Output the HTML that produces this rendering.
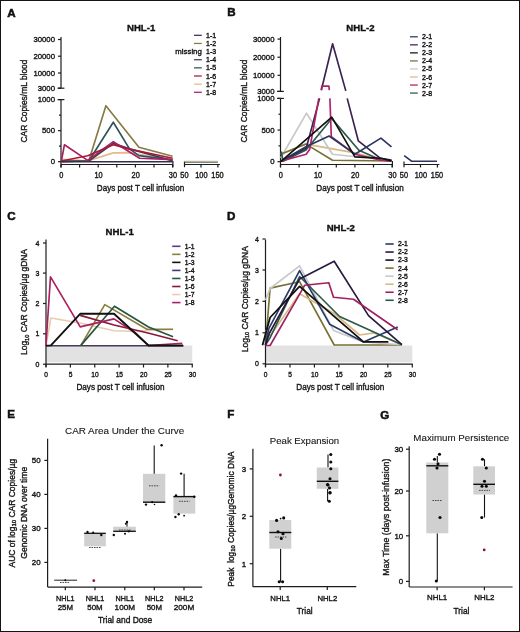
<!DOCTYPE html>
<html><head><meta charset="utf-8"><style>
html,body{margin:0;padding:0;background:#fff;overflow:hidden;width:520px;height:632px;}
svg{display:block;font-family:"Liberation Sans", sans-serif;will-change:transform;}
text{-webkit-font-smoothing:antialiased;}
body{-webkit-font-smoothing:antialiased;}
</style></head><body>
<svg width="520" height="632" viewBox="0 0 520 632">
<rect x="0" y="0" width="520" height="632" fill="#fff"/>
<text x="7.3" y="16.65" font-size="11.6" text-anchor="start" font-weight="bold" fill="#111" stroke="#111" stroke-width="0.55" >A</text>
<text x="227.3" y="16.45" font-size="11.6" text-anchor="start" font-weight="bold" fill="#111" stroke="#111" stroke-width="0.55" >B</text>
<text x="7.3" y="220.25" font-size="11.6" text-anchor="start" font-weight="bold" fill="#111" stroke="#111" stroke-width="0.55" >C</text>
<text x="227" y="220.25" font-size="11.6" text-anchor="start" font-weight="bold" fill="#111" stroke="#111" stroke-width="0.55" >D</text>
<text x="7.3" y="418.45" font-size="11.6" text-anchor="start" font-weight="bold" fill="#111" stroke="#111" stroke-width="0.55" >E</text>
<text x="227.3" y="418.45" font-size="11.6" text-anchor="start" font-weight="bold" fill="#111" stroke="#111" stroke-width="0.55" >F</text>
<text x="380.3" y="418.55" font-size="11.6" text-anchor="start" font-weight="bold" fill="#111" stroke="#111" stroke-width="0.55" >G</text>
<line x1="61" y1="37" x2="61" y2="88.2" stroke="#1c1c1c" stroke-width="1.2"/>
<line x1="57.6" y1="88.2" x2="64.4" y2="88.2" stroke="#1c1c1c" stroke-width="1.2"/>
<line x1="58" y1="39.5" x2="61" y2="39.5" stroke="#1c1c1c" stroke-width="1.2"/>
<text transform="translate(55.0,42.2) scale(0.97,1)" x="0" y="0" font-size="8.0" text-anchor="end" font-weight="normal" fill="#181818" stroke="#181818" stroke-width="0.38" >30000</text>
<line x1="58" y1="56.2" x2="61" y2="56.2" stroke="#1c1c1c" stroke-width="1.2"/>
<text transform="translate(55.0,58.900000000000006) scale(0.97,1)" x="0" y="0" font-size="8.0" text-anchor="end" font-weight="normal" fill="#181818" stroke="#181818" stroke-width="0.38" >20000</text>
<line x1="58" y1="73" x2="61" y2="73" stroke="#1c1c1c" stroke-width="1.2"/>
<text transform="translate(55.0,75.7) scale(0.97,1)" x="0" y="0" font-size="8.0" text-anchor="end" font-weight="normal" fill="#181818" stroke="#181818" stroke-width="0.38" >10000</text>
<line x1="58" y1="88.2" x2="61" y2="88.2" stroke="#1c1c1c" stroke-width="1.2"/>
<text transform="translate(55.0,90.9) scale(0.97,1)" x="0" y="0" font-size="8.0" text-anchor="end" font-weight="normal" fill="#181818" stroke="#181818" stroke-width="0.38" >3000</text>
<line x1="61" y1="99.6" x2="61" y2="167.4" stroke="#1c1c1c" stroke-width="1.2"/>
<line x1="57.6" y1="99.6" x2="64.4" y2="99.6" stroke="#1c1c1c" stroke-width="1.2"/>
<line x1="58" y1="99.6" x2="61" y2="99.6" stroke="#1c1c1c" stroke-width="1.2"/>
<text transform="translate(55.0,102.3) scale(0.97,1)" x="0" y="0" font-size="8.0" text-anchor="end" font-weight="normal" fill="#181818" stroke="#181818" stroke-width="0.38" >1000</text>
<line x1="58" y1="130.64999999999998" x2="61" y2="130.64999999999998" stroke="#1c1c1c" stroke-width="1.2"/>
<text transform="translate(55.0,133.34999999999997) scale(0.97,1)" x="0" y="0" font-size="8.0" text-anchor="end" font-weight="normal" fill="#181818" stroke="#181818" stroke-width="0.38" >500</text>
<line x1="58" y1="161.7" x2="61" y2="161.7" stroke="#1c1c1c" stroke-width="1.2"/>
<text transform="translate(55.0,164.39999999999998) scale(0.97,1)" x="0" y="0" font-size="8.0" text-anchor="end" font-weight="normal" fill="#181818" stroke="#181818" stroke-width="0.38" >0</text>
<line x1="59" y1="146.17499999999998" x2="61" y2="146.17499999999998" stroke="#1c1c1c" stroke-width="1.2"/>
<line x1="59" y1="115.125" x2="61" y2="115.125" stroke="#1c1c1c" stroke-width="1.2"/>
<line x1="61" y1="164.5" x2="172.9" y2="164.5" stroke="#1c1c1c" stroke-width="1.2"/>
<line x1="172.9" y1="161" x2="172.9" y2="167.3" stroke="#1c1c1c" stroke-width="1.2"/>
<line x1="61.0" y1="164.5" x2="61.0" y2="167.4" stroke="#1c1c1c" stroke-width="1.2"/>
<line x1="79.6" y1="164.5" x2="79.6" y2="167.4" stroke="#1c1c1c" stroke-width="1.2"/>
<line x1="98.2" y1="164.5" x2="98.2" y2="167.4" stroke="#1c1c1c" stroke-width="1.2"/>
<line x1="116.80000000000001" y1="164.5" x2="116.80000000000001" y2="167.4" stroke="#1c1c1c" stroke-width="1.2"/>
<line x1="135.4" y1="164.5" x2="135.4" y2="167.4" stroke="#1c1c1c" stroke-width="1.2"/>
<line x1="154.0" y1="164.5" x2="154.0" y2="167.4" stroke="#1c1c1c" stroke-width="1.2"/>
<line x1="172.60000000000002" y1="164.5" x2="172.60000000000002" y2="167.4" stroke="#1c1c1c" stroke-width="1.2"/>
<text transform="translate(61.3,178.2) scale(0.9,1)" x="0" y="0" font-size="8.2" text-anchor="middle" font-weight="normal" fill="#181818" stroke="#181818" stroke-width="0.38" >0</text>
<text transform="translate(98.5,178.2) scale(0.9,1)" x="0" y="0" font-size="8.2" text-anchor="middle" font-weight="normal" fill="#181818" stroke="#181818" stroke-width="0.38" >10</text>
<text transform="translate(135.70000000000002,178.2) scale(0.9,1)" x="0" y="0" font-size="8.2" text-anchor="middle" font-weight="normal" fill="#181818" stroke="#181818" stroke-width="0.38" >20</text>
<text transform="translate(172.90000000000003,178.2) scale(0.9,1)" x="0" y="0" font-size="8.2" text-anchor="middle" font-weight="normal" fill="#181818" stroke="#181818" stroke-width="0.38" >30</text>
<line x1="184.5" y1="164.5" x2="219.9" y2="164.5" stroke="#1c1c1c" stroke-width="1.2"/>
<line x1="184.5" y1="161.4" x2="184.5" y2="167.2" stroke="#1c1c1c" stroke-width="1.2"/>
<line x1="201" y1="164.5" x2="201" y2="167.4" stroke="#1c1c1c" stroke-width="1.2"/>
<line x1="217.9" y1="164.5" x2="217.9" y2="167.4" stroke="#1c1c1c" stroke-width="1.2"/>
<text transform="translate(184.4,178.2) scale(0.9,1)" x="0" y="0" font-size="8.2" text-anchor="middle" font-weight="normal" fill="#181818" stroke="#181818" stroke-width="0.38" >50</text>
<text transform="translate(201.4,178.2) scale(0.9,1)" x="0" y="0" font-size="8.2" text-anchor="middle" font-weight="normal" fill="#181818" stroke="#181818" stroke-width="0.38" >100</text>
<text transform="translate(217.5,178.2) scale(0.9,1)" x="0" y="0" font-size="8.2" text-anchor="middle" font-weight="normal" fill="#181818" stroke="#181818" stroke-width="0.38" >150</text>
<text transform="translate(140.5,191) scale(0.87,1)" x="0" y="0" font-size="9.3" text-anchor="middle" font-weight="normal" fill="#181818" stroke="#181818" stroke-width="0.38" >Days post T cell infusion</text>
<text x="0" y="0" font-size="9.3" text-anchor="middle" fill="#181818" stroke="#181818" stroke-width="0.38" transform="translate(27.3,101) rotate(-90) scale(0.906,1)" >CAR Copies/mL blood</text>
<text x="127" y="31.0" font-size="9.6" text-anchor="start" font-weight="bold" fill="#111" stroke="#111" stroke-width="0.35" >NHL-1</text>
<line x1="194" y1="35.3" x2="201.8" y2="35.3" stroke="#36324a" stroke-width="1.25"/>
<text x="206" y="37.8" font-size="7" text-anchor="start" font-weight="normal" fill="#181818" stroke="#181818" stroke-width="0.38" >1-1</text>
<line x1="194" y1="43.44" x2="201.8" y2="43.44" stroke="#877a42" stroke-width="1.25"/>
<text x="206" y="45.94" font-size="7" text-anchor="start" font-weight="normal" fill="#181818" stroke="#181818" stroke-width="0.38" >1-2</text>
<text x="206" y="54.08" font-size="7" text-anchor="start" font-weight="normal" fill="#181818" stroke="#181818" stroke-width="0.38" >1-3</text>
<line x1="194" y1="59.72" x2="201.8" y2="59.72" stroke="#3a3e58" stroke-width="1.25"/>
<text x="206" y="62.22" font-size="7" text-anchor="start" font-weight="normal" fill="#181818" stroke="#181818" stroke-width="0.38" >1-4</text>
<line x1="194" y1="67.86" x2="201.8" y2="67.86" stroke="#2f5358" stroke-width="1.25"/>
<text x="206" y="70.36" font-size="7" text-anchor="start" font-weight="normal" fill="#181818" stroke="#181818" stroke-width="0.38" >1-5</text>
<line x1="194" y1="76.0" x2="201.8" y2="76.0" stroke="#a8183c" stroke-width="1.25"/>
<text x="206" y="78.5" font-size="7" text-anchor="start" font-weight="normal" fill="#181818" stroke="#181818" stroke-width="0.38" >1-6</text>
<line x1="194" y1="84.14" x2="201.8" y2="84.14" stroke="#e6b890" stroke-width="1.25"/>
<text x="206" y="86.64" font-size="7" text-anchor="start" font-weight="normal" fill="#181818" stroke="#181818" stroke-width="0.38" >1-7</text>
<line x1="194" y1="92.28" x2="201.8" y2="92.28" stroke="#a82064" stroke-width="1.25"/>
<text x="206" y="94.78" font-size="7" text-anchor="start" font-weight="normal" fill="#181818" stroke="#181818" stroke-width="0.38" >1-8</text>
<text x="201.8" y="54.08" font-size="7.8" text-anchor="end" font-weight="normal" fill="#181818" stroke="#181818" stroke-width="0.38" >missing</text>
<line x1="280.5" y1="37" x2="280.5" y2="91.4" stroke="#1c1c1c" stroke-width="1.2"/>
<line x1="277.1" y1="91.4" x2="283.9" y2="91.4" stroke="#1c1c1c" stroke-width="1.2"/>
<line x1="277.5" y1="39.1" x2="280.5" y2="39.1" stroke="#1c1c1c" stroke-width="1.2"/>
<text transform="translate(274.5,41.800000000000004) scale(0.97,1)" x="0" y="0" font-size="8.0" text-anchor="end" font-weight="normal" fill="#181818" stroke="#181818" stroke-width="0.38" >30000</text>
<line x1="277.5" y1="57.2" x2="280.5" y2="57.2" stroke="#1c1c1c" stroke-width="1.2"/>
<text transform="translate(274.5,59.900000000000006) scale(0.97,1)" x="0" y="0" font-size="8.0" text-anchor="end" font-weight="normal" fill="#181818" stroke="#181818" stroke-width="0.38" >20000</text>
<line x1="277.5" y1="75.3" x2="280.5" y2="75.3" stroke="#1c1c1c" stroke-width="1.2"/>
<text transform="translate(274.5,78.0) scale(0.97,1)" x="0" y="0" font-size="8.0" text-anchor="end" font-weight="normal" fill="#181818" stroke="#181818" stroke-width="0.38" >10000</text>
<line x1="277.5" y1="91.4" x2="280.5" y2="91.4" stroke="#1c1c1c" stroke-width="1.2"/>
<text transform="translate(274.5,94.10000000000001) scale(0.97,1)" x="0" y="0" font-size="8.0" text-anchor="end" font-weight="normal" fill="#181818" stroke="#181818" stroke-width="0.38" >3000</text>
<line x1="280.5" y1="98.4" x2="280.5" y2="167.4" stroke="#1c1c1c" stroke-width="1.2"/>
<line x1="277.1" y1="98.4" x2="283.9" y2="98.4" stroke="#1c1c1c" stroke-width="1.2"/>
<line x1="277.5" y1="98.4" x2="280.5" y2="98.4" stroke="#1c1c1c" stroke-width="1.2"/>
<text transform="translate(274.5,101.10000000000001) scale(0.97,1)" x="0" y="0" font-size="8.0" text-anchor="end" font-weight="normal" fill="#181818" stroke="#181818" stroke-width="0.38" >1000</text>
<line x1="277.5" y1="130.05" x2="280.5" y2="130.05" stroke="#1c1c1c" stroke-width="1.2"/>
<text transform="translate(274.5,132.75) scale(0.97,1)" x="0" y="0" font-size="8.0" text-anchor="end" font-weight="normal" fill="#181818" stroke="#181818" stroke-width="0.38" >500</text>
<line x1="277.5" y1="161.7" x2="280.5" y2="161.7" stroke="#1c1c1c" stroke-width="1.2"/>
<text transform="translate(274.5,164.39999999999998) scale(0.97,1)" x="0" y="0" font-size="8.0" text-anchor="end" font-weight="normal" fill="#181818" stroke="#181818" stroke-width="0.38" >0</text>
<line x1="278.5" y1="145.875" x2="280.5" y2="145.875" stroke="#1c1c1c" stroke-width="1.2"/>
<line x1="278.5" y1="114.225" x2="280.5" y2="114.225" stroke="#1c1c1c" stroke-width="1.2"/>
<line x1="280.5" y1="164.5" x2="392.4" y2="164.5" stroke="#1c1c1c" stroke-width="1.2"/>
<line x1="392.4" y1="161" x2="392.4" y2="167.3" stroke="#1c1c1c" stroke-width="1.2"/>
<line x1="280.5" y1="164.5" x2="280.5" y2="167.4" stroke="#1c1c1c" stroke-width="1.2"/>
<line x1="299.1" y1="164.5" x2="299.1" y2="167.4" stroke="#1c1c1c" stroke-width="1.2"/>
<line x1="317.7" y1="164.5" x2="317.7" y2="167.4" stroke="#1c1c1c" stroke-width="1.2"/>
<line x1="336.3" y1="164.5" x2="336.3" y2="167.4" stroke="#1c1c1c" stroke-width="1.2"/>
<line x1="354.9" y1="164.5" x2="354.9" y2="167.4" stroke="#1c1c1c" stroke-width="1.2"/>
<line x1="373.5" y1="164.5" x2="373.5" y2="167.4" stroke="#1c1c1c" stroke-width="1.2"/>
<line x1="392.1" y1="164.5" x2="392.1" y2="167.4" stroke="#1c1c1c" stroke-width="1.2"/>
<text transform="translate(280.8,178.2) scale(0.9,1)" x="0" y="0" font-size="8.2" text-anchor="middle" font-weight="normal" fill="#181818" stroke="#181818" stroke-width="0.38" >0</text>
<text transform="translate(318.0,178.2) scale(0.9,1)" x="0" y="0" font-size="8.2" text-anchor="middle" font-weight="normal" fill="#181818" stroke="#181818" stroke-width="0.38" >10</text>
<text transform="translate(355.2,178.2) scale(0.9,1)" x="0" y="0" font-size="8.2" text-anchor="middle" font-weight="normal" fill="#181818" stroke="#181818" stroke-width="0.38" >20</text>
<text transform="translate(392.40000000000003,178.2) scale(0.9,1)" x="0" y="0" font-size="8.2" text-anchor="middle" font-weight="normal" fill="#181818" stroke="#181818" stroke-width="0.38" >30</text>
<line x1="404.0" y1="164.5" x2="439.4" y2="164.5" stroke="#1c1c1c" stroke-width="1.2"/>
<line x1="404.0" y1="161.4" x2="404.0" y2="167.2" stroke="#1c1c1c" stroke-width="1.2"/>
<line x1="420.5" y1="164.5" x2="420.5" y2="167.4" stroke="#1c1c1c" stroke-width="1.2"/>
<line x1="437.4" y1="164.5" x2="437.4" y2="167.4" stroke="#1c1c1c" stroke-width="1.2"/>
<text transform="translate(403.9,178.2) scale(0.9,1)" x="0" y="0" font-size="8.2" text-anchor="middle" font-weight="normal" fill="#181818" stroke="#181818" stroke-width="0.38" >50</text>
<text transform="translate(420.9,178.2) scale(0.9,1)" x="0" y="0" font-size="8.2" text-anchor="middle" font-weight="normal" fill="#181818" stroke="#181818" stroke-width="0.38" >100</text>
<text transform="translate(437.0,178.2) scale(0.9,1)" x="0" y="0" font-size="8.2" text-anchor="middle" font-weight="normal" fill="#181818" stroke="#181818" stroke-width="0.38" >150</text>
<text transform="translate(360.0,191) scale(0.87,1)" x="0" y="0" font-size="9.3" text-anchor="middle" font-weight="normal" fill="#181818" stroke="#181818" stroke-width="0.38" >Days post T cell infusion</text>
<text x="0" y="0" font-size="9.3" text-anchor="middle" fill="#181818" stroke="#181818" stroke-width="0.38" transform="translate(246.8,101) rotate(-90) scale(0.906,1)" >CAR Copies/mL blood</text>
<text x="346.3" y="31.0" font-size="9.6" text-anchor="start" font-weight="bold" fill="#111" stroke="#111" stroke-width="0.35" >NHL-2</text>
<line x1="410" y1="36.8" x2="417.8" y2="36.8" stroke="#2a3560" stroke-width="1.25"/>
<text x="422" y="39.3" font-size="7" text-anchor="start" font-weight="normal" fill="#181818" stroke="#181818" stroke-width="0.38" >2-1</text>
<line x1="410" y1="44.839999999999996" x2="417.8" y2="44.839999999999996" stroke="#3a2250" stroke-width="1.25"/>
<text x="422" y="47.339999999999996" font-size="7" text-anchor="start" font-weight="normal" fill="#181818" stroke="#181818" stroke-width="0.38" >2-2</text>
<line x1="410" y1="52.879999999999995" x2="417.8" y2="52.879999999999995" stroke="#111111" stroke-width="1.25"/>
<text x="422" y="55.379999999999995" font-size="7" text-anchor="start" font-weight="normal" fill="#181818" stroke="#181818" stroke-width="0.38" >2-3</text>
<line x1="410" y1="60.919999999999995" x2="417.8" y2="60.919999999999995" stroke="#7a7035" stroke-width="1.25"/>
<text x="422" y="63.419999999999995" font-size="7" text-anchor="start" font-weight="normal" fill="#181818" stroke="#181818" stroke-width="0.38" >2-4</text>
<line x1="410" y1="68.96" x2="417.8" y2="68.96" stroke="#c8c8c8" stroke-width="1.25"/>
<text x="422" y="71.46" font-size="7" text-anchor="start" font-weight="normal" fill="#181818" stroke="#181818" stroke-width="0.38" >2-5</text>
<line x1="410" y1="77.0" x2="417.8" y2="77.0" stroke="#d8b888" stroke-width="1.25"/>
<text x="422" y="79.5" font-size="7" text-anchor="start" font-weight="normal" fill="#181818" stroke="#181818" stroke-width="0.38" >2-6</text>
<line x1="410" y1="85.03999999999999" x2="417.8" y2="85.03999999999999" stroke="#b0206a" stroke-width="1.25"/>
<text x="422" y="87.53999999999999" font-size="7" text-anchor="start" font-weight="normal" fill="#181818" stroke="#181818" stroke-width="0.38" >2-7</text>
<line x1="410" y1="93.07999999999998" x2="417.8" y2="93.07999999999998" stroke="#2a5a48" stroke-width="1.25"/>
<text x="422" y="95.57999999999998" font-size="7" text-anchor="start" font-weight="normal" fill="#181818" stroke="#181818" stroke-width="0.38" >2-8</text>
<g transform="translate(0,0.4)">
<polyline points="61.4,158.8 87.7,160.5 113.3,152.5 127.5,152.2 172.6,159.2" fill="none" stroke="#e6b890" stroke-width="1.65" stroke-linejoin="round" />
<polyline points="61.4,161.0 88.8,160.6 105.9,105.3 138.9,146.8 172.6,155.9" fill="none" stroke="#877a42" stroke-width="1.65" stroke-linejoin="round" />
<polyline points="61.4,161.0 88.8,160.6 113.3,121.8 129.5,148.5 138.9,155.2 172.6,159.6" fill="none" stroke="#2f5358" stroke-width="1.65" stroke-linejoin="round" />
<polyline points="61.4,161.0 88.8,160.6 113.3,143.0 129.5,148.5 172.6,160.3" fill="none" stroke="#3a3e58" stroke-width="1.65" stroke-linejoin="round" />
<polyline points="61.4,160.6 64.4,144.4 87.7,160.0 113.3,141.3 128.8,151.1 139.6,157.9 172.6,159.2" fill="none" stroke="#a82064" stroke-width="1.65" stroke-linejoin="round" />
<polyline points="61.4,160.6 87.7,155.4 113.3,144.4 129.5,148.7 172.6,157.9" fill="none" stroke="#a8183c" stroke-width="1.65" stroke-linejoin="round" />
<polyline points="61.4,161.3 172.6,161.3" fill="none" stroke="#36324a" stroke-width="1.65" stroke-linejoin="round" />
<polyline points="184.5,160.8 217.9,160.8" fill="none" stroke="#e6b890" stroke-width="1.1" stroke-linejoin="round" />
<polyline points="184.5,161.8 217.9,161.8" fill="none" stroke="#3a6a68" stroke-width="1.1" stroke-linejoin="round" />
</g>
<polyline points="280.7,154.2 306.0,144.1 355.0,152.9 381.0,160.0 391.5,160.5" fill="none" stroke="#d8b888" stroke-width="1.65" stroke-linejoin="round" />
<polyline points="280.7,158.0 306.5,113.2 332.5,154.2 358.0,157.0 391.5,160.0" fill="none" stroke="#c8c8c8" stroke-width="1.65" stroke-linejoin="round" />
<polyline points="280.7,154.2 306.0,144.1 332.5,160.3 391.5,161.0" fill="none" stroke="#7a7035" stroke-width="1.65" stroke-linejoin="round" />
<polyline points="281.3,151.5 283.0,161.3 306.0,150.0 331.8,118.6 358.9,150.2 381.0,160.0 391.5,161.0" fill="none" stroke="#2a5a48" stroke-width="1.65" stroke-linejoin="round" />
<polyline points="280.7,161.3 306.2,148.2 319.6,98.4" fill="none" stroke="#3a2250" stroke-width="1.65" stroke-linejoin="round" />
<polyline points="321.3,90.2 332.6,43.8 345.8,90.9" fill="none" stroke="#3a2250" stroke-width="1.65" stroke-linejoin="round" />
<polyline points="347.2,98.4 358.3,140.8 380.5,158.3 391.5,160.0" fill="none" stroke="#3a2250" stroke-width="1.65" stroke-linejoin="round" />
<polyline points="280.7,161.3 306.2,154.2 309.6,149.5 318.8,98.4" fill="none" stroke="#b0206a" stroke-width="1.65" stroke-linejoin="round" />
<polyline points="321.3,90.2 321.8,86.1 328.9,86.1 329.3,90.2" fill="none" stroke="#b0206a" stroke-width="1.65" stroke-linejoin="round" />
<polyline points="329.9,98.4 331.3,136.7 354.9,154.2 381.0,160.3 391.5,161.0" fill="none" stroke="#b0206a" stroke-width="1.65" stroke-linejoin="round" />
<polyline points="280.7,161.3 306.0,146.8 329.1,136.0 354.9,154.2 380.9,138.1 391.5,146.8" fill="none" stroke="#2a3560" stroke-width="1.65" stroke-linejoin="round" />
<polyline points="404.2,155.7 411.5,161.2 437.0,161.2" fill="none" stroke="#2a3560" stroke-width="1.65" stroke-linejoin="round" />
<polyline points="280.7,161.6 331.8,117.2 354.9,156.9 381.1,158.3 391.5,161.0" fill="none" stroke="#111111" stroke-width="1.65" stroke-linejoin="round" />
<rect x="46.5" y="345.5" width="145.75" height="16.8" fill="#e2e2e2"/>
<line x1="46" y1="239.5" x2="46" y2="367" stroke="#1c1c1c" stroke-width="1.2"/>
<line x1="43" y1="364.2" x2="46" y2="364.2" stroke="#1c1c1c" stroke-width="1.2"/>
<text transform="translate(39.5,366.7) scale(0.92,1)" x="0" y="0" font-size="7.6" text-anchor="end" font-weight="normal" fill="#181818" stroke="#181818" stroke-width="0.38" >0</text>
<line x1="43" y1="333.8" x2="46" y2="333.8" stroke="#1c1c1c" stroke-width="1.2"/>
<text transform="translate(39.5,336.3) scale(0.92,1)" x="0" y="0" font-size="7.6" text-anchor="end" font-weight="normal" fill="#181818" stroke="#181818" stroke-width="0.38" >1</text>
<line x1="43" y1="303.5" x2="46" y2="303.5" stroke="#1c1c1c" stroke-width="1.2"/>
<text transform="translate(39.5,306.0) scale(0.92,1)" x="0" y="0" font-size="7.6" text-anchor="end" font-weight="normal" fill="#181818" stroke="#181818" stroke-width="0.38" >2</text>
<line x1="43" y1="273.1" x2="46" y2="273.1" stroke="#1c1c1c" stroke-width="1.2"/>
<text transform="translate(39.5,275.6) scale(0.92,1)" x="0" y="0" font-size="7.6" text-anchor="end" font-weight="normal" fill="#181818" stroke="#181818" stroke-width="0.38" >3</text>
<line x1="43" y1="243" x2="46" y2="243" stroke="#1c1c1c" stroke-width="1.2"/>
<text transform="translate(39.5,245.5) scale(0.92,1)" x="0" y="0" font-size="7.6" text-anchor="end" font-weight="normal" fill="#181818" stroke="#181818" stroke-width="0.38" >4</text>
<line x1="46" y1="364.1" x2="192.75" y2="364.1" stroke="#1c1c1c" stroke-width="1.2"/>
<line x1="46.0" y1="364.1" x2="46.0" y2="367.5" stroke="#1c1c1c" stroke-width="1.2"/>
<text transform="translate(46.2,377.3) scale(0.87,1)" x="0" y="0" font-size="7.6" text-anchor="middle" font-weight="normal" fill="#181818" stroke="#181818" stroke-width="0.38" >0</text>
<line x1="70.375" y1="364.1" x2="70.375" y2="367.5" stroke="#1c1c1c" stroke-width="1.2"/>
<text transform="translate(70.575,377.3) scale(0.87,1)" x="0" y="0" font-size="7.6" text-anchor="middle" font-weight="normal" fill="#181818" stroke="#181818" stroke-width="0.38" >5</text>
<line x1="94.75" y1="364.1" x2="94.75" y2="367.5" stroke="#1c1c1c" stroke-width="1.2"/>
<text transform="translate(94.95,377.3) scale(0.87,1)" x="0" y="0" font-size="7.6" text-anchor="middle" font-weight="normal" fill="#181818" stroke="#181818" stroke-width="0.38" >10</text>
<line x1="119.125" y1="364.1" x2="119.125" y2="367.5" stroke="#1c1c1c" stroke-width="1.2"/>
<text transform="translate(119.325,377.3) scale(0.87,1)" x="0" y="0" font-size="7.6" text-anchor="middle" font-weight="normal" fill="#181818" stroke="#181818" stroke-width="0.38" >15</text>
<line x1="143.5" y1="364.1" x2="143.5" y2="367.5" stroke="#1c1c1c" stroke-width="1.2"/>
<text transform="translate(143.7,377.3) scale(0.87,1)" x="0" y="0" font-size="7.6" text-anchor="middle" font-weight="normal" fill="#181818" stroke="#181818" stroke-width="0.38" >20</text>
<line x1="167.875" y1="364.1" x2="167.875" y2="367.5" stroke="#1c1c1c" stroke-width="1.2"/>
<text transform="translate(168.075,377.3) scale(0.87,1)" x="0" y="0" font-size="7.6" text-anchor="middle" font-weight="normal" fill="#181818" stroke="#181818" stroke-width="0.38" >25</text>
<line x1="192.25" y1="364.1" x2="192.25" y2="367.5" stroke="#1c1c1c" stroke-width="1.2"/>
<text transform="translate(192.45,377.3) scale(0.87,1)" x="0" y="0" font-size="7.6" text-anchor="middle" font-weight="normal" fill="#181818" stroke="#181818" stroke-width="0.38" >30</text>
<text transform="translate(120.5,390.4) scale(0.888,1)" x="0" y="0" font-size="9.2" text-anchor="middle" font-weight="normal" fill="#181818" stroke="#181818" stroke-width="0.38" >Days post T cell infusion</text>
<text x="105.6" y="234.8" font-size="9.6" text-anchor="start" font-weight="bold" fill="#111" stroke="#111" stroke-width="0.35" >NHL-1</text>
<line x1="172.2" y1="246.3" x2="180.5" y2="246.3" stroke="#5a3a80" stroke-width="1.6"/>
<text x="184.79999999999998" y="248.70000000000002" font-size="6.8" text-anchor="start" font-weight="normal" fill="#181818" stroke="#181818" stroke-width="0.38" >1-1</text>
<line x1="172.2" y1="254.34" x2="180.5" y2="254.34" stroke="#8a7e40" stroke-width="1.6"/>
<text x="184.79999999999998" y="256.74" font-size="6.8" text-anchor="start" font-weight="normal" fill="#181818" stroke="#181818" stroke-width="0.38" >1-2</text>
<line x1="172.2" y1="262.38" x2="180.5" y2="262.38" stroke="#111111" stroke-width="1.6"/>
<text x="184.79999999999998" y="264.78" font-size="6.8" text-anchor="start" font-weight="normal" fill="#181818" stroke="#181818" stroke-width="0.38" >1-3</text>
<line x1="172.2" y1="270.42" x2="180.5" y2="270.42" stroke="#3a3a80" stroke-width="1.6"/>
<text x="184.79999999999998" y="272.82" font-size="6.8" text-anchor="start" font-weight="normal" fill="#181818" stroke="#181818" stroke-width="0.38" >1-4</text>
<line x1="172.2" y1="278.46000000000004" x2="180.5" y2="278.46000000000004" stroke="#2a5540" stroke-width="1.6"/>
<text x="184.79999999999998" y="280.86" font-size="6.8" text-anchor="start" font-weight="normal" fill="#181818" stroke="#181818" stroke-width="0.38" >1-5</text>
<line x1="172.2" y1="286.5" x2="180.5" y2="286.5" stroke="#8a1838" stroke-width="1.6"/>
<text x="184.79999999999998" y="288.9" font-size="6.8" text-anchor="start" font-weight="normal" fill="#181818" stroke="#181818" stroke-width="0.38" >1-6</text>
<line x1="172.2" y1="294.54" x2="180.5" y2="294.54" stroke="#e8ccb0" stroke-width="1.6"/>
<text x="184.79999999999998" y="296.94" font-size="6.8" text-anchor="start" font-weight="normal" fill="#181818" stroke="#181818" stroke-width="0.38" >1-7</text>
<line x1="172.2" y1="302.58" x2="180.5" y2="302.58" stroke="#a82060" stroke-width="1.6"/>
<text x="184.79999999999998" y="304.97999999999996" font-size="6.8" text-anchor="start" font-weight="normal" fill="#181818" stroke="#181818" stroke-width="0.38" >1-8</text>
<text x="0" y="0" font-size="9.3" text-anchor="middle" fill="#181818" stroke="#181818" stroke-width="0.38" transform="translate(27.4,302) rotate(-90) scale(0.91,1)" >Log<tspan font-size="6.2" dy="1.3">10</tspan><tspan dy="-1.3"> CAR Copies/µg gDNA</tspan></text>
<rect x="266.0" y="345.5" width="146.29" height="16.8" fill="#e2e2e2"/>
<line x1="265.5" y1="239.5" x2="265.5" y2="367" stroke="#1c1c1c" stroke-width="1.2"/>
<line x1="262.5" y1="363.8" x2="265.5" y2="363.8" stroke="#1c1c1c" stroke-width="1.2"/>
<text transform="translate(259.0,366.3) scale(0.92,1)" x="0" y="0" font-size="7.6" text-anchor="end" font-weight="normal" fill="#181818" stroke="#181818" stroke-width="0.38" >0</text>
<line x1="262.5" y1="332.8" x2="265.5" y2="332.8" stroke="#1c1c1c" stroke-width="1.2"/>
<text transform="translate(259.0,335.3) scale(0.92,1)" x="0" y="0" font-size="7.6" text-anchor="end" font-weight="normal" fill="#181818" stroke="#181818" stroke-width="0.38" >1</text>
<line x1="262.5" y1="301.3" x2="265.5" y2="301.3" stroke="#1c1c1c" stroke-width="1.2"/>
<text transform="translate(259.0,303.8) scale(0.92,1)" x="0" y="0" font-size="7.6" text-anchor="end" font-weight="normal" fill="#181818" stroke="#181818" stroke-width="0.38" >2</text>
<line x1="262.5" y1="270" x2="265.5" y2="270" stroke="#1c1c1c" stroke-width="1.2"/>
<text transform="translate(259.0,272.5) scale(0.92,1)" x="0" y="0" font-size="7.6" text-anchor="end" font-weight="normal" fill="#181818" stroke="#181818" stroke-width="0.38" >3</text>
<line x1="262.5" y1="239" x2="265.5" y2="239" stroke="#1c1c1c" stroke-width="1.2"/>
<text transform="translate(259.0,241.5) scale(0.92,1)" x="0" y="0" font-size="7.6" text-anchor="end" font-weight="normal" fill="#181818" stroke="#181818" stroke-width="0.38" >4</text>
<line x1="265.5" y1="364.1" x2="412.78999999999996" y2="364.1" stroke="#1c1c1c" stroke-width="1.2"/>
<line x1="265.5" y1="364.1" x2="265.5" y2="367.5" stroke="#1c1c1c" stroke-width="1.2"/>
<text transform="translate(265.7,377.3) scale(0.87,1)" x="0" y="0" font-size="7.6" text-anchor="middle" font-weight="normal" fill="#181818" stroke="#181818" stroke-width="0.38" >0</text>
<line x1="289.965" y1="364.1" x2="289.965" y2="367.5" stroke="#1c1c1c" stroke-width="1.2"/>
<text transform="translate(290.16499999999996,377.3) scale(0.87,1)" x="0" y="0" font-size="7.6" text-anchor="middle" font-weight="normal" fill="#181818" stroke="#181818" stroke-width="0.38" >5</text>
<line x1="314.43" y1="364.1" x2="314.43" y2="367.5" stroke="#1c1c1c" stroke-width="1.2"/>
<text transform="translate(314.63,377.3) scale(0.87,1)" x="0" y="0" font-size="7.6" text-anchor="middle" font-weight="normal" fill="#181818" stroke="#181818" stroke-width="0.38" >10</text>
<line x1="338.895" y1="364.1" x2="338.895" y2="367.5" stroke="#1c1c1c" stroke-width="1.2"/>
<text transform="translate(339.09499999999997,377.3) scale(0.87,1)" x="0" y="0" font-size="7.6" text-anchor="middle" font-weight="normal" fill="#181818" stroke="#181818" stroke-width="0.38" >15</text>
<line x1="363.36" y1="364.1" x2="363.36" y2="367.5" stroke="#1c1c1c" stroke-width="1.2"/>
<text transform="translate(363.56,377.3) scale(0.87,1)" x="0" y="0" font-size="7.6" text-anchor="middle" font-weight="normal" fill="#181818" stroke="#181818" stroke-width="0.38" >20</text>
<line x1="387.825" y1="364.1" x2="387.825" y2="367.5" stroke="#1c1c1c" stroke-width="1.2"/>
<text transform="translate(388.025,377.3) scale(0.87,1)" x="0" y="0" font-size="7.6" text-anchor="middle" font-weight="normal" fill="#181818" stroke="#181818" stroke-width="0.38" >25</text>
<line x1="412.28999999999996" y1="364.1" x2="412.28999999999996" y2="367.5" stroke="#1c1c1c" stroke-width="1.2"/>
<text transform="translate(412.48999999999995,377.3) scale(0.87,1)" x="0" y="0" font-size="7.6" text-anchor="middle" font-weight="normal" fill="#181818" stroke="#181818" stroke-width="0.38" >30</text>
<text transform="translate(340.3,390.4) scale(0.888,1)" x="0" y="0" font-size="9.2" text-anchor="middle" font-weight="normal" fill="#181818" stroke="#181818" stroke-width="0.38" >Days post T cell infusion</text>
<text x="326.7" y="230.6" font-size="9.6" text-anchor="start" font-weight="bold" fill="#111" stroke="#111" stroke-width="0.35" >NHL-2</text>
<line x1="385.4" y1="244.0" x2="393.7" y2="244.0" stroke="#283a68" stroke-width="1.6"/>
<text x="398.0" y="246.4" font-size="6.8" text-anchor="start" font-weight="normal" fill="#181818" stroke="#181818" stroke-width="0.38" >2-1</text>
<line x1="385.4" y1="252.04" x2="393.7" y2="252.04" stroke="#2a1840" stroke-width="1.6"/>
<text x="398.0" y="254.44" font-size="6.8" text-anchor="start" font-weight="normal" fill="#181818" stroke="#181818" stroke-width="0.38" >2-2</text>
<line x1="385.4" y1="260.08" x2="393.7" y2="260.08" stroke="#111111" stroke-width="1.6"/>
<text x="398.0" y="262.47999999999996" font-size="6.8" text-anchor="start" font-weight="normal" fill="#181818" stroke="#181818" stroke-width="0.38" >2-3</text>
<line x1="385.4" y1="268.12" x2="393.7" y2="268.12" stroke="#7a7035" stroke-width="1.6"/>
<text x="398.0" y="270.52" font-size="6.8" text-anchor="start" font-weight="normal" fill="#181818" stroke="#181818" stroke-width="0.38" >2-4</text>
<line x1="385.4" y1="276.15999999999997" x2="393.7" y2="276.15999999999997" stroke="#c8c8c8" stroke-width="1.6"/>
<text x="398.0" y="278.55999999999995" font-size="6.8" text-anchor="start" font-weight="normal" fill="#181818" stroke="#181818" stroke-width="0.38" >2-5</text>
<line x1="385.4" y1="284.2" x2="393.7" y2="284.2" stroke="#d8b888" stroke-width="1.6"/>
<text x="398.0" y="286.59999999999997" font-size="6.8" text-anchor="start" font-weight="normal" fill="#181818" stroke="#181818" stroke-width="0.38" >2-6</text>
<line x1="385.4" y1="292.24" x2="393.7" y2="292.24" stroke="#a02060" stroke-width="1.6"/>
<text x="398.0" y="294.64" font-size="6.8" text-anchor="start" font-weight="normal" fill="#181818" stroke="#181818" stroke-width="0.38" >2-7</text>
<line x1="385.4" y1="300.28" x2="393.7" y2="300.28" stroke="#2a5a48" stroke-width="1.6"/>
<text x="398.0" y="302.67999999999995" font-size="6.8" text-anchor="start" font-weight="normal" fill="#181818" stroke="#181818" stroke-width="0.38" >2-8</text>
<text x="0" y="0" font-size="9.3" text-anchor="middle" fill="#181818" stroke="#181818" stroke-width="0.38" transform="translate(247.7,299.2) rotate(-90) scale(0.91,1)" >Log<tspan font-size="6.2" dy="1.3">10</tspan><tspan dy="-1.3"> CAR Copies/µg gDNA</tspan></text>
<polyline points="45.9,345.7 183.5,345.7" fill="none" stroke="#463a58" stroke-width="1.65" stroke-linejoin="round" />
<polyline points="45.9,346.0 50.9,318.0 80.0,323.0 114.0,330.8 130.8,331.2 173.0,329.5" fill="none" stroke="#e8ccb0" stroke-width="1.65" stroke-linejoin="round" />
<polyline points="80.9,345.4 104.8,304.6 146.9,329.2 173.1,329.2" fill="none" stroke="#8a7e40" stroke-width="1.65" stroke-linejoin="round" />
<polyline points="80.9,345.4 114.5,306.2 148.5,327.0 173.1,336.8" fill="none" stroke="#2a5540" stroke-width="1.65" stroke-linejoin="round" />
<polyline points="80.2,315.4 114.0,325.0 148.0,333.0 177.7,340.8" fill="none" stroke="#8a1838" stroke-width="1.65" stroke-linejoin="round" />
<polyline points="45.9,346.0 50.5,276.9 80.2,326.9 114.0,318.9 136.2,333.5 148.5,345.5 182.3,343.2" fill="none" stroke="#a82060" stroke-width="1.65" stroke-linejoin="round" />
<polyline points="45.9,345.6 50.9,345.4 80.2,313.8 114.0,313.8 148.5,345.5 183.1,345.5" fill="none" stroke="#111111" stroke-width="1.9" stroke-linejoin="round" />
<polyline points="265.5,345.2 270.1,288.1 299.6,281.7 334.2,345.0 401.9,345.0" fill="none" stroke="#7a7035" stroke-width="1.65" stroke-linejoin="round" />
<polyline points="265.5,330.0 270.1,336.0 299.6,293.8 334.2,313.5 359.6,335.0 374.2,332.9 401.9,344.7" fill="none" stroke="#d8b888" stroke-width="1.65" stroke-linejoin="round" />
<polyline points="265.5,300.0 270.1,288.5 299.6,265.8 333.5,330.4 363.5,342.0 401.9,344.7" fill="none" stroke="#c8c8c8" stroke-width="1.65" stroke-linejoin="round" />
<polyline points="265.5,345.0 270.1,337.7 299.6,276.5 339.6,316.5 401.9,344.7" fill="none" stroke="#2a5a48" stroke-width="1.65" stroke-linejoin="round" />
<polyline points="265.5,345.0 268.9,328.4 299.6,270.6 329.6,324.2 363.5,341.9 397.7,326.9" fill="none" stroke="#283a68" stroke-width="1.65" stroke-linejoin="round" />
<polyline points="265.5,345.0 269.5,333.0 299.6,279.0 334.2,261.2 368.5,315.6 401.9,344.7" fill="none" stroke="#2a1840" stroke-width="1.65" stroke-linejoin="round" />
<polyline points="265.5,345.5 270.1,345.5 301.8,290.4 304.7,285.2 328.8,282.7 333.5,297.3 353.5,299.2 397.7,329.8" fill="none" stroke="#a02060" stroke-width="1.65" stroke-linejoin="round" />
<polyline points="262.5,345.2 270.1,317.5 299.6,286.4 363.5,341.9 388.4,341.9" fill="none" stroke="#111111" stroke-width="1.8" stroke-linejoin="round" />
<line x1="47.6" y1="438.7" x2="47.6" y2="586.9" stroke="#1c1c1c" stroke-width="1.2"/>
<line x1="47.6" y1="587.1" x2="202.2" y2="587.1" stroke="#1c1c1c" stroke-width="1.2"/>
<line x1="44.4" y1="562.4" x2="47.6" y2="562.4" stroke="#1c1c1c" stroke-width="1.2"/>
<text x="40.6" y="565.1999999999999" font-size="7.9" text-anchor="end" font-weight="normal" fill="#181818" stroke="#181818" stroke-width="0.38" >20</text>
<line x1="44.4" y1="528.4" x2="47.6" y2="528.4" stroke="#1c1c1c" stroke-width="1.2"/>
<text x="40.6" y="531.1999999999999" font-size="7.9" text-anchor="end" font-weight="normal" fill="#181818" stroke="#181818" stroke-width="0.38" >30</text>
<line x1="44.4" y1="494.4" x2="47.6" y2="494.4" stroke="#1c1c1c" stroke-width="1.2"/>
<text x="40.6" y="497.2" font-size="7.9" text-anchor="end" font-weight="normal" fill="#181818" stroke="#181818" stroke-width="0.38" >40</text>
<line x1="44.4" y1="460.4" x2="47.6" y2="460.4" stroke="#1c1c1c" stroke-width="1.2"/>
<text x="40.6" y="463.2" font-size="7.9" text-anchor="end" font-weight="normal" fill="#181818" stroke="#181818" stroke-width="0.38" >50</text>
<text x="124.6" y="433.5" font-size="9.9" text-anchor="middle" font-weight="normal" fill="#181818" stroke="#181818" stroke-width="0.12" >CAR Area Under the Curve</text>
<line x1="65.3" y1="586.9" x2="65.3" y2="590.3" stroke="#1c1c1c" stroke-width="1.2"/>
<text x="65.3" y="600.6" font-size="7.9" text-anchor="middle" font-weight="normal" fill="#181818" stroke="#181818" stroke-width="0.38" textLength="18.4" lengthAdjust="spacingAndGlyphs">NHL1</text>
<text x="65.3" y="610.1" font-size="7.9" text-anchor="middle" font-weight="normal" fill="#181818" stroke="#181818" stroke-width="0.38" textLength="15.299999999999999" lengthAdjust="spacingAndGlyphs">25M</text>
<line x1="95" y1="586.9" x2="95" y2="590.3" stroke="#1c1c1c" stroke-width="1.2"/>
<text x="95" y="600.6" font-size="7.9" text-anchor="middle" font-weight="normal" fill="#181818" stroke="#181818" stroke-width="0.38" textLength="18.4" lengthAdjust="spacingAndGlyphs">NHL1</text>
<text x="95" y="610.1" font-size="7.9" text-anchor="middle" font-weight="normal" fill="#181818" stroke="#181818" stroke-width="0.38" textLength="15.299999999999999" lengthAdjust="spacingAndGlyphs">50M</text>
<line x1="124.8" y1="586.9" x2="124.8" y2="590.3" stroke="#1c1c1c" stroke-width="1.2"/>
<text x="124.8" y="600.6" font-size="7.9" text-anchor="middle" font-weight="normal" fill="#181818" stroke="#181818" stroke-width="0.38" textLength="18.4" lengthAdjust="spacingAndGlyphs">NHL1</text>
<text x="124.8" y="610.1" font-size="7.9" text-anchor="middle" font-weight="normal" fill="#181818" stroke="#181818" stroke-width="0.38" textLength="20.4" lengthAdjust="spacingAndGlyphs">100M</text>
<line x1="154.3" y1="586.9" x2="154.3" y2="590.3" stroke="#1c1c1c" stroke-width="1.2"/>
<text x="154.3" y="600.6" font-size="7.9" text-anchor="middle" font-weight="normal" fill="#181818" stroke="#181818" stroke-width="0.38" textLength="18.4" lengthAdjust="spacingAndGlyphs">NHL2</text>
<text x="154.3" y="610.1" font-size="7.9" text-anchor="middle" font-weight="normal" fill="#181818" stroke="#181818" stroke-width="0.38" textLength="15.299999999999999" lengthAdjust="spacingAndGlyphs">50M</text>
<line x1="184" y1="586.9" x2="184" y2="590.3" stroke="#1c1c1c" stroke-width="1.2"/>
<text x="184" y="600.6" font-size="7.9" text-anchor="middle" font-weight="normal" fill="#181818" stroke="#181818" stroke-width="0.38" textLength="18.4" lengthAdjust="spacingAndGlyphs">NHL2</text>
<text x="184" y="610.1" font-size="7.9" text-anchor="middle" font-weight="normal" fill="#181818" stroke="#181818" stroke-width="0.38" textLength="20.4" lengthAdjust="spacingAndGlyphs">200M</text>
<text transform="translate(125.1,623.4) scale(0.945,1)" x="0" y="0" font-size="8.9" text-anchor="middle" font-weight="normal" fill="#181818" stroke="#181818" stroke-width="0.38" >Trial and Dose</text>
<text x="0" y="0" font-size="8.9" text-anchor="middle" fill="#181818" stroke="#181818" stroke-width="0.38" transform="translate(15.0,513.2) rotate(-90) scale(0.955,1)" >AUC of log<tspan font-size="6.2" dy="1.4">10</tspan><tspan dy="-1.4"> CAR Copies/µg</tspan></text>
<text x="0" y="0" font-size="9.0" text-anchor="middle" fill="#181818" stroke="#181818" stroke-width="0.38" transform="translate(26.8,512.8) rotate(-90) scale(0.953,1)" >Genomic DNA over time</text>
<line x1="54.2" y1="580.2" x2="77" y2="580.2" stroke="#222" stroke-width="1.0"/>
<line x1="60" y1="582.5" x2="70" y2="582.5" stroke="#3a3a3a" stroke-width="0.9" stroke-dasharray="1.6,0.9"/>
<circle cx="65.3" cy="580.2" r="1" fill="#0a0a0a"/>
<rect x="84.2" y="533" width="21.6" height="13.3" fill="#d0d0d0"/>
<line x1="84.2" y1="533.3" x2="105.8" y2="533.3" stroke="#111" stroke-width="1.3"/>
<line x1="89" y1="547.5" x2="101" y2="547.5" stroke="#3a3a3a" stroke-width="0.9" stroke-dasharray="1.6,0.9"/>
<circle cx="93.8" cy="580.7" r="1.4" fill="#8a1532"/>
<circle cx="87.5" cy="532" r="1.2" fill="#0a0a0a"/>
<circle cx="93.2" cy="532.5" r="1.1" fill="#0a0a0a"/>
<circle cx="101.3" cy="535" r="1.2" fill="#0a0a0a"/>
<rect x="113.2" y="526.7" width="22.6" height="5.4" fill="#d0d0d0"/>
<line x1="113.2" y1="531.3" x2="135.8" y2="531.3" stroke="#111" stroke-width="1.3"/>
<line x1="119" y1="530" x2="131" y2="530" stroke="#3a3a3a" stroke-width="0.9" stroke-dasharray="1.6,0.9"/>
<line x1="127" y1="522" x2="127" y2="526.7" stroke="#111" stroke-width="1"/>
<circle cx="113.8" cy="535" r="1.2" fill="#0a0a0a"/>
<circle cx="127" cy="522" r="1.2" fill="#0a0a0a"/>
<circle cx="125.8" cy="523.8" r="1" fill="#0a0a0a"/>
<circle cx="128.8" cy="531.3" r="1.1" fill="#0a0a0a"/>
<circle cx="125" cy="533.8" r="1" fill="#0a0a0a"/>
<rect x="143" y="473.8" width="22.3" height="28.4" fill="#d0d0d0"/>
<line x1="154.2" y1="445.6" x2="154.2" y2="473.8" stroke="#111" stroke-width="1.1"/>
<line x1="143" y1="502.2" x2="165.3" y2="502.2" stroke="#111" stroke-width="1.4"/>
<line x1="149" y1="485.8" x2="159.2" y2="485.8" stroke="#3a3a3a" stroke-width="0.9" stroke-dasharray="1.6,0.9"/>
<circle cx="161.6" cy="445.3" r="1.2" fill="#0a0a0a"/>
<circle cx="146" cy="504.6" r="1.2" fill="#0a0a0a"/>
<circle cx="152.2" cy="502.2" r="1.1" fill="#0a0a0a"/>
<circle cx="154.5" cy="504.5" r="0.8" fill="#0a0a0a"/>
<rect x="173.4" y="496.4" width="21.9" height="17.2" fill="#d0d0d0"/>
<line x1="184.1" y1="473.8" x2="184.1" y2="496.4" stroke="#111" stroke-width="1.1"/>
<line x1="173.4" y1="496.6" x2="195.3" y2="496.6" stroke="#111" stroke-width="1.4"/>
<line x1="179" y1="501.3" x2="189.5" y2="501.3" stroke="#3a3a3a" stroke-width="0.9" stroke-dasharray="1.6,0.9"/>
<circle cx="181.1" cy="473.6" r="1.2" fill="#0a0a0a"/>
<circle cx="176" cy="495.5" r="1.2" fill="#0a0a0a"/>
<circle cx="194.2" cy="496.8" r="1.2" fill="#0a0a0a"/>
<circle cx="175.4" cy="517" r="1.2" fill="#0a0a0a"/>
<circle cx="178.7" cy="514.3" r="1.2" fill="#0a0a0a"/>
<circle cx="184.1" cy="515.7" r="0.9" fill="#0a0a0a"/>
<line x1="252.9" y1="448.8" x2="252.9" y2="586.7" stroke="#1c1c1c" stroke-width="1.2"/>
<line x1="252.9" y1="586.7" x2="356.3" y2="586.7" stroke="#1c1c1c" stroke-width="1.2"/>
<line x1="249.70000000000002" y1="563.7" x2="252.9" y2="563.7" stroke="#1c1c1c" stroke-width="1.2"/>
<text x="246.20000000000002" y="566.5" font-size="7.9" text-anchor="end" font-weight="normal" fill="#181818" stroke="#181818" stroke-width="0.38" >1</text>
<line x1="249.70000000000002" y1="516.3000000000001" x2="252.9" y2="516.3000000000001" stroke="#1c1c1c" stroke-width="1.2"/>
<text x="246.20000000000002" y="519.1" font-size="7.9" text-anchor="end" font-weight="normal" fill="#181818" stroke="#181818" stroke-width="0.38" >2</text>
<line x1="249.70000000000002" y1="468.90000000000003" x2="252.9" y2="468.90000000000003" stroke="#1c1c1c" stroke-width="1.2"/>
<text x="246.20000000000002" y="471.70000000000005" font-size="7.9" text-anchor="end" font-weight="normal" fill="#181818" stroke="#181818" stroke-width="0.38" >3</text>
<text x="304.5" y="443.8" font-size="9.6" text-anchor="middle" font-weight="normal" fill="#181818" stroke="#181818" stroke-width="0.12" >Peak Expansion</text>
<line x1="280.2" y1="586.7" x2="280.2" y2="590" stroke="#1c1c1c" stroke-width="1.2"/>
<text x="280.2" y="600.5" font-size="8.0" text-anchor="middle" font-weight="normal" fill="#181818" stroke="#181818" stroke-width="0.38" textLength="19.8" lengthAdjust="spacingAndGlyphs">NHL1</text>
<line x1="327.3" y1="586.7" x2="327.3" y2="590" stroke="#1c1c1c" stroke-width="1.2"/>
<text x="327.3" y="600.5" font-size="8.0" text-anchor="middle" font-weight="normal" fill="#181818" stroke="#181818" stroke-width="0.38" textLength="19.8" lengthAdjust="spacingAndGlyphs">NHL2</text>
<text transform="translate(304.7,613.7) scale(0.93,1)" x="0" y="0" font-size="8.9" text-anchor="middle" font-weight="normal" fill="#181818" stroke="#181818" stroke-width="0.38" >Trial</text>
<text x="0" y="0" font-size="8.9" text-anchor="middle" fill="#181818" stroke="#181818" stroke-width="0.38" transform="translate(233.8,519) rotate(-90) scale(0.945,1)" >Peak&#160; log<tspan font-size="6.2" dy="1.4">10</tspan><tspan dy="-1.4"> Copies/µgGenomic DNA</tspan></text>
<line x1="280.6" y1="548.7" x2="280.6" y2="581.8" stroke="#111" stroke-width="1.1"/>
<rect x="269.3" y="520" width="22" height="28.7" fill="#d0d0d0"/>
<line x1="269.3" y1="532.5" x2="291.3" y2="532.5" stroke="#111" stroke-width="1.4"/>
<line x1="275" y1="537" x2="286.3" y2="537" stroke="#3a3a3a" stroke-width="0.9" stroke-dasharray="1.6,0.9"/>
<circle cx="280.4" cy="475" r="1.4" fill="#8a1532"/>
<circle cx="276.6" cy="520.4" r="1.55" fill="#0a0a0a"/>
<circle cx="283.7" cy="517.9" r="1.55" fill="#0a0a0a"/>
<circle cx="278" cy="531.8" r="1.55" fill="#0a0a0a"/>
<circle cx="283" cy="533.8" r="1.55" fill="#0a0a0a"/>
<circle cx="281.3" cy="538.5" r="1.55" fill="#0a0a0a"/>
<circle cx="279.2" cy="581.8" r="1.55" fill="#0a0a0a"/>
<circle cx="282.6" cy="581.8" r="1.55" fill="#0a0a0a"/>
<circle cx="280.6" cy="518.6" r="0.9" fill="#0a0a0a"/>
<line x1="328" y1="454.5" x2="328" y2="467.5" stroke="#111" stroke-width="1.1"/>
<line x1="327.6" y1="488.8" x2="327.6" y2="501.3" stroke="#111" stroke-width="1.1"/>
<rect x="316.8" y="467.5" width="21.6" height="21.3" fill="#d0d0d0"/>
<line x1="316.8" y1="481.3" x2="338.4" y2="481.3" stroke="#111" stroke-width="1.4"/>
<circle cx="330.8" cy="454.5" r="1.55" fill="#0a0a0a"/>
<circle cx="330.8" cy="462" r="1.55" fill="#0a0a0a"/>
<circle cx="330.8" cy="468.8" r="1.55" fill="#0a0a0a"/>
<circle cx="330" cy="478.8" r="1.55" fill="#0a0a0a"/>
<circle cx="328" cy="485" r="1.55" fill="#0a0a0a"/>
<circle cx="330" cy="493" r="1.55" fill="#0a0a0a"/>
<circle cx="327.5" cy="484.5" r="1.55" fill="#0a0a0a"/>
<circle cx="329.5" cy="488" r="1.55" fill="#0a0a0a"/>
<circle cx="330" cy="492.5" r="1.55" fill="#0a0a0a"/>
<circle cx="329.3" cy="501.3" r="1.55" fill="#0a0a0a"/>
<line x1="409.2" y1="446.2" x2="409.2" y2="587" stroke="#1c1c1c" stroke-width="1.2"/>
<line x1="409.2" y1="587" x2="512.6" y2="587" stroke="#1c1c1c" stroke-width="1.2"/>
<line x1="406.0" y1="581.4" x2="409.2" y2="581.4" stroke="#1c1c1c" stroke-width="1.2"/>
<text x="403.2" y="584.1999999999999" font-size="7.9" text-anchor="end" font-weight="normal" fill="#181818" stroke="#181818" stroke-width="0.38" >0</text>
<line x1="406.0" y1="535.8" x2="409.2" y2="535.8" stroke="#1c1c1c" stroke-width="1.2"/>
<text x="403.2" y="538.5999999999999" font-size="7.9" text-anchor="end" font-weight="normal" fill="#181818" stroke="#181818" stroke-width="0.38" >10</text>
<line x1="406.0" y1="491" x2="409.2" y2="491" stroke="#1c1c1c" stroke-width="1.2"/>
<text x="403.2" y="493.8" font-size="7.9" text-anchor="end" font-weight="normal" fill="#181818" stroke="#181818" stroke-width="0.38" >20</text>
<line x1="406.0" y1="449.2" x2="409.2" y2="449.2" stroke="#1c1c1c" stroke-width="1.2"/>
<text x="403.2" y="452.0" font-size="7.9" text-anchor="end" font-weight="normal" fill="#181818" stroke="#181818" stroke-width="0.38" >30</text>
<text x="461.3" y="440.5" font-size="9.75" text-anchor="middle" font-weight="normal" fill="#181818" stroke="#181818" stroke-width="0.12" >Maximum Persistence</text>
<line x1="437.1" y1="587" x2="437.1" y2="590.3" stroke="#1c1c1c" stroke-width="1.2"/>
<text x="437.1" y="600.0" font-size="8.0" text-anchor="middle" font-weight="normal" fill="#181818" stroke="#181818" stroke-width="0.38" textLength="20.2" lengthAdjust="spacingAndGlyphs">NHL1</text>
<line x1="484.4" y1="587" x2="484.4" y2="590.3" stroke="#1c1c1c" stroke-width="1.2"/>
<text x="484.4" y="600.0" font-size="8.0" text-anchor="middle" font-weight="normal" fill="#181818" stroke="#181818" stroke-width="0.38" textLength="20.2" lengthAdjust="spacingAndGlyphs">NHL2</text>
<text transform="translate(461.5,613.8) scale(0.93,1)" x="0" y="0" font-size="8.9" text-anchor="middle" font-weight="normal" fill="#181818" stroke="#181818" stroke-width="0.38" >Trial</text>
<text x="0" y="0" font-size="9.2" text-anchor="middle" fill="#181818" stroke="#181818" stroke-width="0.38" transform="translate(389,517.2) rotate(-90) scale(0.955,1)" >Max Time (days post-infusion)</text>
<line x1="437.3" y1="456" x2="437.3" y2="462.5" stroke="#111" stroke-width="1.1"/>
<line x1="437.3" y1="533.3" x2="437.3" y2="581" stroke="#111" stroke-width="1.1"/>
<rect x="426.3" y="462.5" width="22" height="70.8" fill="#d0d0d0"/>
<line x1="426.3" y1="465.8" x2="448.3" y2="465.8" stroke="#111" stroke-width="1.4"/>
<line x1="432.5" y1="500.5" x2="442.5" y2="500.5" stroke="#3a3a3a" stroke-width="0.9" stroke-dasharray="1.6,0.9"/>
<circle cx="439.5" cy="454.3" r="1.55" fill="#0a0a0a"/>
<circle cx="434.5" cy="459.3" r="1.55" fill="#0a0a0a"/>
<circle cx="438" cy="463.8" r="1.55" fill="#0a0a0a"/>
<circle cx="437" cy="468" r="1.55" fill="#0a0a0a"/>
<circle cx="440" cy="517.5" r="1.55" fill="#0a0a0a"/>
<circle cx="436.3" cy="581" r="1.55" fill="#0a0a0a"/>
<line x1="484.5" y1="459.3" x2="484.5" y2="466.3" stroke="#111" stroke-width="1.1"/>
<line x1="484.5" y1="494.5" x2="484.5" y2="517.5" stroke="#111" stroke-width="1.1"/>
<rect x="473.3" y="466.3" width="21.7" height="28.2" fill="#d0d0d0"/>
<line x1="473.3" y1="484.3" x2="495" y2="484.3" stroke="#111" stroke-width="1.4"/>
<line x1="479" y1="490.4" x2="490" y2="490.4" stroke="#3a3a3a" stroke-width="0.9" stroke-dasharray="1.6,0.9"/>
<circle cx="482.5" cy="459.3" r="1.55" fill="#0a0a0a"/>
<circle cx="486.3" cy="468" r="1.55" fill="#0a0a0a"/>
<circle cx="484.5" cy="481.3" r="1.55" fill="#0a0a0a"/>
<circle cx="482" cy="486.3" r="1.55" fill="#0a0a0a"/>
<circle cx="486.3" cy="486.3" r="1.55" fill="#0a0a0a"/>
<circle cx="481.8" cy="517.5" r="1.55" fill="#0a0a0a"/>
<circle cx="484.2" cy="549.9" r="1.4" fill="#8a1532"/>
<rect x="0" y="0" width="520" height="1" fill="#141414"/><rect x="0" y="631" width="520" height="1" fill="#141414"/><rect x="0" y="0" width="1" height="632" fill="#141414"/><rect x="519" y="0" width="1" height="632" fill="#141414"/>
</svg>
</body></html>
